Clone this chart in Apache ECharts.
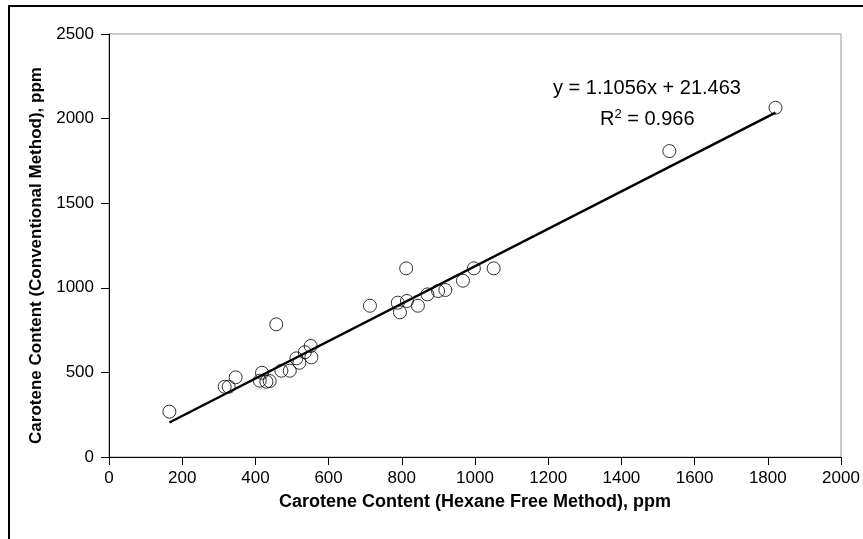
<!DOCTYPE html>
<html>
<head>
<meta charset="utf-8">
<script src="https://cdn.jsdelivr.net/npm/echarts@6/dist/echarts.min.js"></script>
<style>
  html, body { margin: 0; padding: 0; background: #fff; }
  #chart { width: 863px; height: 539px; }
</style>
</head>
<body>
<div id="chart"></div>
<script>
// hexane free method (x) vs conventional method (y), ppm
const hexaneFree = [165, 316, 327, 346, 457, 418, 412, 430, 439, 471, 494, 512, 520, 535, 551, 553,
  713, 812, 789, 795, 814, 844, 870, 899, 919, 967, 997, 1051, 1531, 1821];
const conventional = [268, 415, 415, 471, 784, 498, 451, 445, 449, 510, 510, 583, 557, 619, 656, 589,
  894, 1115, 912, 855, 922, 894, 961, 981, 987, 1042, 1115, 1115, 1808, 2064];
const xTicks = [0, 200, 400, 600, 800, 1000, 1200, 1400, 1600, 1800, 2000];
const yTicks = [0, 500, 1000, 1500, 2000, 2500];

// trendline from the fitted equation
const slope = 1.1056;
const intercept = 21.463;
const xMin = Math.min(...hexaneFree);
const xMax = Math.max(...hexaneFree);
const trend = [
  [xMin, slope * xMin + intercept],
  [xMax, slope * xMax + intercept],
];

const points = hexaneFree.map((x, i) => [x, conventional[i]]);
const font = "Liberation Sans, Arial, sans-serif";

const chart = echarts.init(document.getElementById("chart"));
chart.setOption({
  animation: false,
  backgroundColor: "#fff",
  textStyle: { fontFamily: font },
  graphic: [
    {
      type: "rect",
      shape: { x: 9, y: 6, width: 900, height: 600 },
      style: { fill: "none", stroke: "#000", lineWidth: 2 },
      silent: true,
    },
    {
      type: "text",
      left: 553,
      top: 78,
      style: { text: "y = 1.1056x + 21.463", font: "20px " + font, fill: "#000" },
    },
    {
      type: "text",
      left: 600,
      top: 108,
      style: {
        text: "R{sup|2} = 0.966",
        font: "20px " + font,
        fill: "#000",
        rich: { sup: { fontSize: 13, verticalAlign: "top", padding: [0, 0, 10, 0] } },
      },
    },
  ],
  grid: {
    left: 109,
    right: 22,
    top: 34,
    bottom: 82,
    show: true,
    borderColor: "#999",
    borderWidth: 1,
  },
  xAxis: {
    type: "value",
    min: xTicks[0],
    max: xTicks[xTicks.length - 1],
    interval: 200,
    name: "Carotene Content (Hexane Free Method), ppm",
    nameLocation: "middle",
    nameGap: 36,
    nameTextStyle: { fontSize: 18, fontWeight: "bold", color: "#000" },
    axisLine: { show: true, lineStyle: { color: "#000", width: 1 } },
    axisTick: { show: true, inside: false, length: 8, lineStyle: { color: "#000" } },
    axisLabel: { fontSize: 17, color: "#000", margin: 13, formatter: (v) => String(v) },
    splitLine: { show: false },
  },
  yAxis: {
    type: "value",
    min: yTicks[0],
    max: yTicks[yTicks.length - 1],
    interval: 500,
    name: "Carotene Content (Conventional Method), ppm",
    nameLocation: "middle",
    nameGap: 56,
    nameTextStyle: { fontSize: 17, fontWeight: "bold", color: "#000", padding: [0, 20, 0, 0] },
    axisLine: { show: true, lineStyle: { color: "#000", width: 1 } },
    axisTick: { show: true, inside: false, length: 8, lineStyle: { color: "#000" } },
    axisLabel: { fontSize: 17, color: "#000", margin: 15, formatter: (v) => String(v) },
    splitLine: { show: false },
  },
  series: [
    {
      type: "line",
      data: trend,
      symbol: "none",
      lineStyle: { color: "#000", width: 2.5 },
      z: 3,
    },
    {
      type: "scatter",
      data: points,
      symbol: "circle",
      symbolSize: 13,
      itemStyle: { color: "rgba(255,255,255,0)", borderColor: "#000", borderWidth: 1 },
      z: 4,
    },
  ],
});
</script>
</body>
</html>
